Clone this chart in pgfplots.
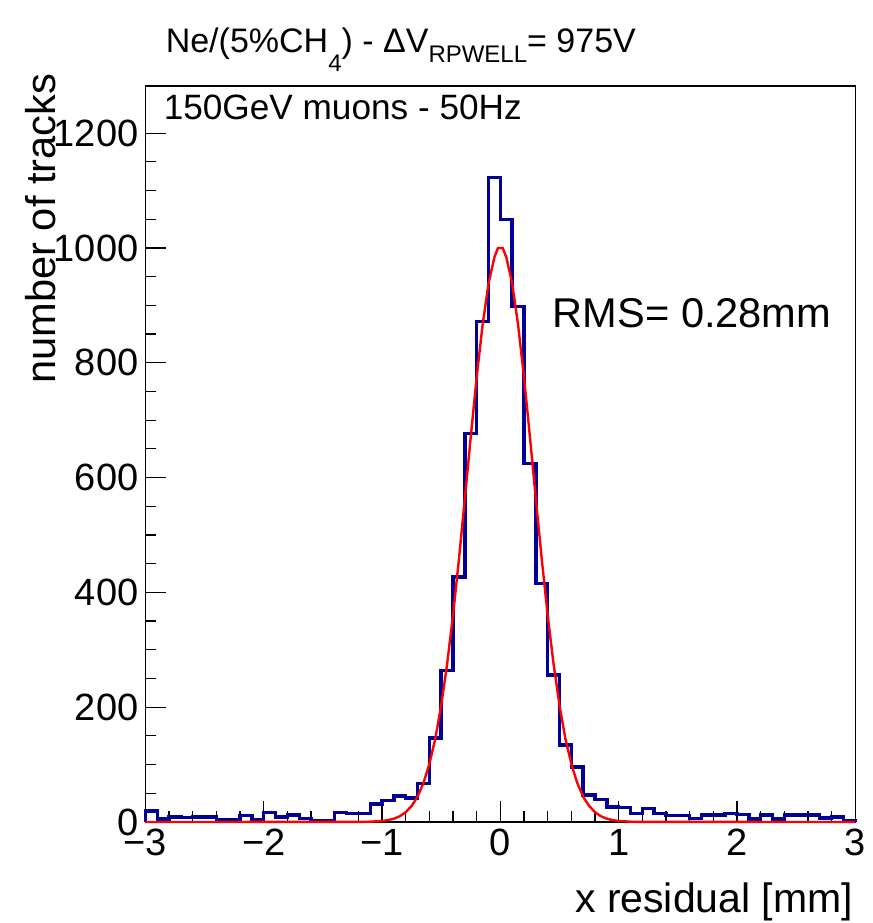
\documentclass[border=0pt]{standalone}
\usepackage{fontspec}
\setmainfont{Liberation Sans}
\usepackage{pgfplots}
\pgfplotsset{compat=1.18}
\definecolor{histblue}{RGB}{0,0,153}

\begin{document}
\begin{tikzpicture}
\begin{axis}[
  scale only axis,
  width=355pt, height=368pt,
  xmin=-3, xmax=3, ymin=0, ymax=1282,
  clip=false,
  axis line style={line width=0.7pt},
  tick style={black, line width=0.6pt},
  major tick length=10.5pt, minor tick length=5.5pt,
  tick align=inside,
  xtick pos=bottom, ytick pos=left,
  xtick={-3,...,3},
  xticklabels={−3,−2,−1,0,1,2,3},
  minor x tick num=4,
  ytick={0,200,...,1200},
  minor y tick num=3,
  ticklabel style={font=\fontsize{19}{20}\selectfont},
  /pgf/number format/assume math mode=true,
  /pgf/number format/1000 sep={},
]

% histogram, bin width 0.1 (left edges)
\addplot[const plot, histblue, line width=1.7pt] coordinates {
(-3.0,0)
(-3.0,19) (-2.9,5) (-2.8,9) (-2.7,8) (-2.6,9) (-2.5,9) (-2.4,4) (-2.3,4)
(-2.2,11) (-2.1,4) (-2.0,16) (-1.9,9) (-1.8,12) (-1.7,6) (-1.6,3) (-1.5,3)
(-1.4,17) (-1.3,15) (-1.2,15) (-1.1,31) (-1.0,37) (-0.9,45) (-0.8,42) (-0.7,67)
(-0.6,146) (-0.5,264) (-0.4,427) (-0.3,677) (-0.2,872) (-0.1,1123)
(0.0,1050) (0.1,898) (0.2,624) (0.3,415) (0.4,256) (0.5,134) (0.6,96) (0.7,47)
(0.8,39) (0.9,26) (1.0,25) (1.1,15) (1.2,24) (1.3,15) (1.4,11) (1.5,11)
(1.6,6) (1.7,12) (1.8,12) (1.9,15) (2.0,13) (2.1,5) (2.2,12) (2.3,5)
(2.4,12) (2.5,12) (2.6,12) (2.7,7) (2.8,9) (2.9,2)
(3.0,2) (3.0,0)
};

% gaussian fit
\addplot[red, line width=1.2pt] coordinates {
(-3.0,0) (-1.2,0.1) (-1.1,0.5) (-1.0,1.7) (-0.95,3.2) (-0.9,5.7) (-0.85,10)
(-0.8,17) (-0.75,28) (-0.7,44) (-0.65,68) (-0.6,101) (-0.55,145) (-0.5,203)
(-0.45,275) (-0.4,360) (-0.35,458) (-0.3,563) (-0.25,671) (-0.2,775)
(-0.15,866) (-0.1,938) (-0.05,984) (-0.02,1000) (0.02,1000) (0.05,984)
(0.1,938) (0.15,866) (0.2,775) (0.25,671) (0.3,563) (0.35,458) (0.4,360)
(0.45,275) (0.5,203) (0.55,145) (0.6,101) (0.65,68) (0.7,44) (0.75,28)
(0.8,17) (0.85,10) (0.9,5.7) (0.95,3.2) (1.0,1.7) (1.1,0.5) (1.2,0.1) (3.0,0)
};

\node[anchor=base west, font=\fontsize{17}{20}\selectfont, inner sep=0pt]
  at (axis cs:-2.831,1341)
  {Ne/(5\%CH\raisebox{-9.5pt}{\fontsize{12}{14}\selectfont 4}) - ΔV\raisebox{-5pt}{\fontsize{12}{14}\selectfont RPWELL}= 975V};
\node[anchor=base west, font=\fontsize{17.6}{20}\selectfont, inner sep=0pt]
  at (axis cs:-2.848,1223) {150GeV muons - 50Hz};
\node[anchor=base west, font=\fontsize{20.8}{24}\selectfont, inner sep=0pt]
  at (axis cs:0.44,862) {RMS= 0.28mm};
\node[anchor=base east, font=\fontsize{20.5}{24}\selectfont, inner sep=0pt]
  at (axis cs:2.985,-157) {x residual [mm]};
\node[anchor=base east, rotate=90, font=\fontsize{20.8}{24}\selectfont, inner sep=0pt]
  at (axis cs:-3.761,1304) {number of tracks};

% page extent
\path (axis cs:-4.229,-176) rectangle (axis cs:3.119,1432);
\end{axis}
\end{tikzpicture}
\end{document}
